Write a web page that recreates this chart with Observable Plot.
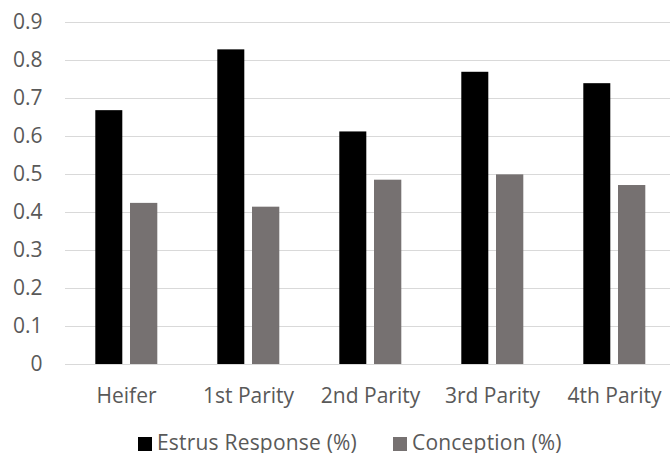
<!DOCTYPE html>
<html>
<head>
<meta charset="utf-8">
<script src="https://cdn.jsdelivr.net/npm/d3@7"></script>
<script src="https://cdn.jsdelivr.net/npm/@observablehq/plot@0.6"></script>
<style>
  html, body { margin: 0; padding: 0; background: #fff; }
  #chart { width: 670px; }
  #legend { display: flex; align-items: center; padding-left: 138px; padding-top: 11px; height: 22px;
    font-family: "Open Sans", sans-serif; font-size: 21px; line-height: 1; color: #595959; letter-spacing: 0.2px; }
  .item { display: flex; align-items: center; }
  .sw { width: 14px; height: 14px; margin-right: 5px; margin-top: 3px; }
</style>
</head>
<body>
<div id="chart"></div>
<script>
const categories = ["Heifer", "1st Parity", "2nd Parity", "3rd Parity", "4th Parity"];
const estrusResponse = [0.668, 0.828, 0.612, 0.769, 0.739];
const conception = [0.424, 0.414, 0.485, 0.499, 0.471];
const yTicks = [0, 0.1, 0.2, 0.3, 0.4, 0.5, 0.6, 0.7, 0.8, 0.9];
const seriesNames = ["Estrus Response (%)", "Conception (%)"];
const seriesColors = ["#000000", "#767171"];

const data = categories.map((c, i) => ({category: c, estrus: estrusResponse[i], conception: conception[i]}));

const chart = Plot.plot({
  width: 670,
  height: 420,
  marginLeft: 65,
  marginRight: 0,
  marginTop: 22,
  marginBottom: 56,
  style: {fontFamily: "Open Sans, sans-serif", fontSize: "21px", color: "#595959", background: "#fff"},
  x: {domain: categories, range: [65, 675], padding: 0, label: null, tickSize: 0, tickPadding: 24},
  y: {domain: [0, 0.9], ticks: yTicks, label: null, tickSize: 0, tickPadding: 23,
      tickFormat: d => d === 0 ? "0" : d.toFixed(1)},
  marks: [
    Plot.ruleY(yTicks, {stroke: "#d9d9d9", strokeWidth: 1}),
    Plot.barY(data, {x: "category", y: "estrus", fill: seriesColors[0], insetLeft: 30.3, insetRight: 64.7}),
    Plot.barY(data, {x: "category", y: "conception", fill: seriesColors[1], insetLeft: 65, insetRight: 29.7})
  ]
});
document.getElementById("chart").appendChild(chart);

const legend = document.createElement("div");
legend.id = "legend";
seriesNames.forEach((name, i) => {
  const item = document.createElement("div");
  item.className = "item";
  if (i > 0) item.style.marginLeft = "36px";
  const sw = document.createElement("span");
  sw.className = "sw";
  sw.style.background = seriesColors[i];
  const t = document.createElement("span");
  t.textContent = name;
  item.appendChild(sw);
  item.appendChild(t);
  legend.appendChild(item);
});
document.body.appendChild(legend);
</script>
</body>
</html>
